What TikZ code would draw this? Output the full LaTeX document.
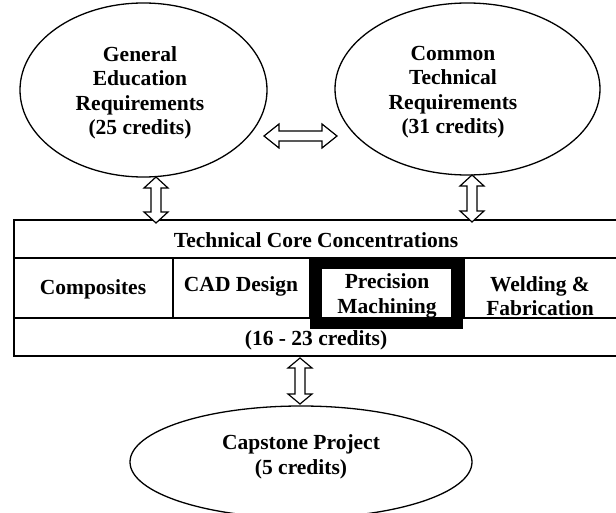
\documentclass[tikz,border=0pt]{standalone}
\usepackage{fontspec}
\setmainfont{Liberation Serif}
\usetikzlibrary{calc,shapes.geometric}
\tikzset{
  bub/.style={ellipse, draw, line width=1.3pt, inner sep=0pt},
  lbl/.style={font=\bfseries\fontsize{21.5}{24.5}\selectfont, align=center, inner sep=0pt},
  gridline/.style={line width=1.5pt},
  hollow/.style={draw, fill=white, line width=1.2pt, line join=miter}
}
\newcommand\hollowarrow[3]{%
  \path ($(#1)!#3!(#2)$) coordinate (ha) ($(#2)!#3!(#1)$) coordinate (hb);
  \draw[hollow] (#1) -- ($(ha)!12pt!90:(#2)$) -- ($(ha)!5pt!90:(#2)$)
    -- ($(hb)!5pt!-90:(#1)$) -- ($(hb)!12pt!-90:(#1)$) -- (#2)
    -- ($(hb)!12pt!90:(#1)$) -- ($(hb)!5pt!90:(#1)$)
    -- ($(ha)!5pt!-90:(#2)$) -- ($(ha)!12pt!-90:(#2)$) -- cycle;}
\begin{document}
\begin{tikzpicture}[x=1pt,y=-1pt]
\useasboundingbox (0,0) rectangle (616,513);
\clip (0,0) rectangle (616,513);
\fill[white] (0,0) rectangle (616,513);

% ellipses
\node[bub, minimum width=247, minimum height=174] (ge) at (143.5,90) {};
\node[lbl] (get) at (140,93) {General\\Education\\Requirements\\(25 credits)};
\node[bub, minimum width=265, minimum height=172] (ct) at (467.5,89) {};
\node[lbl] (ctt) at (453,92) {Common\\Technical\\Requirements\\(31 credits)};
\node[bub, minimum width=342, minimum height=112] (cp) at (301,462) {};
\node[lbl] (cpt) at (301,457) {Capstone Project\\(5 credits)};

% table
\draw[gridline] (14,220) rectangle (622,356);
\draw[gridline] (14,258) -- (622,258);
\draw[gridline] (14,318) -- (622,318);
\draw[gridline] (173,258) -- (173,318);
\draw[gridline] (310,258) -- (310,318);
\draw[gridline] (464,258) -- (464,318);
\node[lbl] (tcc) at (316,240) {Technical Core Concentrations};
\node[lbl] (comp) at (93,289) {Composites};
\node[lbl] (cad) at (241,286) {CAD Design};
\node[draw, line width=12pt, minimum width=141, minimum height=60, inner sep=0pt] (precbox) at (386.5,293) {};
\node[lbl] (prec) at (387,296) {Precision\\Machining};
\node[lbl] (weld) at (540,296) {Welding \&\\Fabrication};
\node[lbl] (cred) at (316,340) {(16 - 23 credits)};

% arrows
\coordinate (h1) at (264,136);
\coordinate (h2) at (337,136);
\coordinate (l1) at (156,177);
\coordinate (l2) at (156,223);
\coordinate (r1) at (472,175);
\coordinate (r2) at (472,222);
\coordinate (b1) at (300,358);
\coordinate (b2) at (300,404);
\hollowarrow{h1}{h2}{15pt}
\hollowarrow{l1}{l2}{11pt}
\hollowarrow{r1}{r2}{11pt}
\hollowarrow{b1}{b2}{10pt}
\end{tikzpicture}
\end{document}
